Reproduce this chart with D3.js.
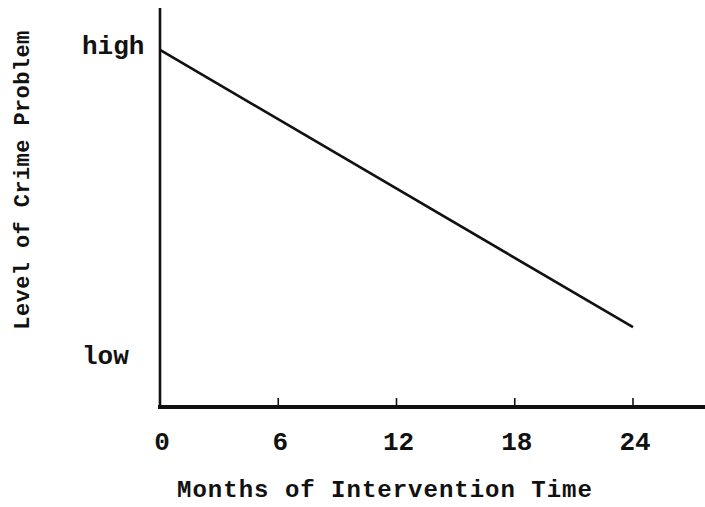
<!DOCTYPE html>
<html>
<head>
<meta charset="utf-8">
<script src="https://cdn.jsdelivr.net/npm/d3@7"></script>
<style>
  body { margin: 0; background: #fff; }
  svg text { font-family: "Liberation Mono", "DejaVu Sans Mono", monospace; fill: #111; }
</style>
</head>
<body>
<svg width="705" height="507"></svg>
<script>
const width = 705;
const height = 507;
const svg = d3.select("svg");

// data
const months = [0, 24];
const crimeLevel = [89.5, 20];
const xTicks = [0, 6, 12, 18, 24];
const levelLabels = ["high", "low"];
const levelValues = [90.5, 12.8];

const x = d3.scaleLinear().domain([0, 24]).range([160, 633]);
const y = d3.scaleLinear().domain([0, 100]).range([407, 8]);

// y axis line
svg.append("line")
    .attr("x1", x(0)).attr("y1", y(100))
    .attr("x2", x(0)).attr("y2", y(0) + 1)
    .attr("stroke", "#111")
    .attr("stroke-width", 2.6);

// x axis line (extends past 24)
svg.append("line")
    .attr("x1", x(0) - 2).attr("y1", y(0))
    .attr("x2", width).attr("y2", y(0))
    .attr("stroke", "#111")
    .attr("stroke-width", 4);

// small upward ticks
svg.selectAll(".tick")
    .data(xTicks.slice(1))
    .enter()
    .append("line")
    .attr("class", "tick")
    .attr("x1", d => x(d)).attr("x2", d => x(d))
    .attr("y1", y(0)).attr("y2", y(0) - 9)
    .attr("stroke", "#111")
    .attr("stroke-width", 1.6);

// tick labels
svg.selectAll(".tlabel")
    .data(xTicks)
    .enter()
    .append("text")
    .attr("class", "tlabel")
    .attr("x", d => x(d) + 2)
    .attr("y", 450)
    .attr("text-anchor", "middle")
    .attr("font-size", 26)
    .attr("font-weight", "bold")
    .text(d => d);

// high / low labels
svg.selectAll(".level")
    .data(levelLabels)
    .enter()
    .append("text")
    .attr("class", "level")
    .attr("x", 82)
    .attr("y", (d, i) => y(levelValues[i]) + 8)
    .attr("font-size", 26)
    .attr("font-weight", "bold")
    .text(d => d);

// the trend line
const line = d3.line()
    .x((d, i) => x(months[i]))
    .y(d => y(d));

svg.append("path")
    .datum(crimeLevel)
    .attr("d", line)
    .attr("fill", "none")
    .attr("stroke", "#111")
    .attr("stroke-width", 2.6);

// axis titles
svg.append("text")
    .attr("x", 385)
    .attr("y", 497)
    .attr("text-anchor", "middle")
    .attr("font-size", 24)
    .attr("font-weight", "bold")
    .attr("letter-spacing", 1)
    .text("Months of Intervention Time");

svg.append("text")
    .attr("transform", "translate(29,180) rotate(-90)")
    .attr("text-anchor", "middle")
    .attr("font-size", 22)
    .attr("font-weight", "bold")
    .attr("letter-spacing", 0.4)
    .text("Level of Crime Problem");
</script>
</body>
</html>
